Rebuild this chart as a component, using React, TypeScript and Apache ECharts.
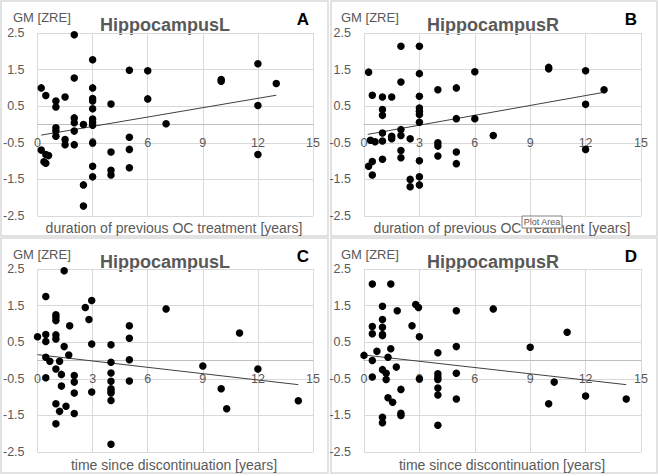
import React, { useEffect, useRef } from "react";
import * as echarts from "echarts";

const ptsA: number[][] = [
  [0.2, 1.0], [0.45, 0.79], [1, 0.64], [1, 0.48], [1.5, 0.75], [2, 2.45], [2, 1.27], [2, 0.18], [2, 0.05], [2, -0.18], [2, -0.55],
  [1, -0.09], [1, -0.18], [1, -0.32], [1.5, -0.41], [1.5, -0.55], [2.5, 0.0],
  [3, 1.77], [3, 1.0], [3, 0.71], [3, 0.64], [3, 0.43], [3, 0.15], [3, 0.06], [3, -0.02], [3, -0.5], [3, -1.14], [3, -1.43],
  [2.5, -1.65], [2.5, -2.23], [0.2, -0.7], [0.45, -0.82], [0.6, -0.85], [0.35, -1.02], [0.45, -1.06],
  [4, 0.56], [4, -0.75], [4, -1.25], [4, -1.38], [5, 1.48], [5, -0.35], [5, -0.68], [5, -1.18], [6, 1.47], [6, 0.7], [7, 0.02],
  [10, 1.23], [10, 1.18], [12, 1.66], [12, 0.52], [12, -0.82], [13, 1.12],
];

const ptsB: number[][] = [
  [0.25, 1.43], [0.45, 0.8], [1, 0.75], [1.5, 0.75], [1, 0.41], [1, 0.25], [2, 2.14], [3, 2.14], [2, 1.16], [3, 1.39], [3, 0.77],
  [3, 0.45], [3, 0.36], [3, 0.27], [3, 0.06], [1, -0.23], [1, -0.45], [1.5, -0.32], [1.5, -0.39], [0.35, -0.43], [0.6, -0.47],
  [2, -0.14], [2, -0.3], [2.5, -0.39], [2, -0.71], [2, -0.91], [1, -0.95], [3, -0.99], [0.45, -1.01], [0.25, -1.14], [0.45, -1.38],
  [3, -1.43], [3, -1.65], [2.5, -1.5], [2.5, -1.7], [4, 0.95], [4, -0.5], [4, -0.59], [4, -0.86], [5, 1.0], [5, 0.16], [5, -0.75], [5, -1.07],
  [6, 1.44], [6, 0.16], [7, -0.3], [10, 1.56], [10, 1.52], [12, 1.47], [12, 0.55], [12, -0.68], [13, 0.95],
];

const ptsC: number[][] = [
  [0, 0.65], [0.45, 1.75], [0.45, 0.71], [0.45, 0.52], [0.45, 0.09], [0.67, -0.02], [0.45, -0.47],
  [1, 1.25], [1, 1.18], [1, 1.09], [1, 0.7], [1, 0.59], [1, -0.23], [1, -1.18], [1, -1.73],
  [1.45, 2.45], [1.45, 0.38], [1.2, -0.02], [1.3, -0.38], [1.3, -0.7], [1.2, -1.39], [1.55, -1.25], [1.75, 0.95], [1.7, 0.15],
  [2, -0.41], [2, -0.59], [2, -0.89], [2, -1.45], [2.6, 1.45], [2.8, 1.12], [2.95, 1.64], [2.95, 0.45], [2.95, -0.86],
  [4, 0.43], [4, -0.05], [4, -0.34], [4, -0.57], [4, -0.77], [4, -0.84], [4, -0.89], [4, -1.09], [4, -2.29],
  [5, 0.95], [5, 0.61], [5, 0.02], [5, -0.56], [7, 1.41], [9, -0.15], [10, -0.77], [10.3, -1.32], [11, 0.75], [12, -0.23], [14.2, -1.1],
];

const ptsD: number[][] = [
  [0, 0.14], [0.45, 2.09], [0.45, 0.93], [0.45, 0.73], [0.45, 0.0], [0.45, -0.45], [0.7, 0.25],
  [1, 1.48], [1, 1.12], [1, 0.91], [1, 0.71], [1, 0.68], [1, -0.25], [1, -1.55], [1, -1.7],
  [1.2, -0.35], [1.2, -0.52], [1.3, 0.09], [1.3, -1.02], [1.45, 2.09], [1.45, 0.32], [1.55, -1.14], [1.75, -0.18], [1.8, 1.36],
  [2, -0.79], [2, -1.44], [2, -1.5], [2.6, 0.95], [2.8, 1.53], [2.95, 1.45], [3, 0.65], [3, -0.5],
  [4, 0.21], [4, -0.36], [4, -0.45], [4, -0.52], [4, -0.75], [4, -0.94], [4, -1.77],
  [5, 1.36], [5, 0.38], [5, -0.35], [5, -1.05], [7, 1.41], [9, 0.36], [10, -1.18], [10.3, -0.59], [11, 0.77], [12, -0.97], [14.2, -1.05],
];

const trendA: number[][] = [[0.2, -0.29], [13, 0.8]];
const trendB: number[][] = [[0.2, -0.27], [13, 0.88]];
const trendC: number[][] = [[0, 0.16], [14.2, -0.66]];
const trendD: number[][] = [[0, 0.15], [14.2, -0.66]];

const panelTitles = ["HippocampusL", "HippocampusR", "HippocampusL", "HippocampusR"];
const panelLetters = ["A", "B", "C", "D"];
const xAxisNames = [
  "duration of previous OC treatment [years]",
  "duration of previous OC treatment [years]",
  "time since discontinuation [years]",
  "time since discontinuation [years]",
];
const yAxisName = "GM [ZRE]";
const xRange = [0, 15, 3];
const yRange = [-2.5, 2.5, 1];

const FONT = "'Liberation Sans', Arial, sans-serif";
const GRAY = "#595959";

export default function App() {
  const ref = useRef<HTMLDivElement>(null);
  useEffect(() => {
    if (!ref.current) return;
    const chart = echarts.init(ref.current, undefined, { renderer: "svg" });
    const pts = [ptsA, ptsB, ptsC, ptsD];
    const trends = [trendA, trendB, trendC, trendD];
    const offX = [0, 328, 0, 328];
    const offY = [0, 0, 236, 236];
    const gridH = 183;
    const grids = offX.map((ox, i) => ({
      left: 36 + ox,
      top: 33 + offY[i],
      width: 277,
      height: gridH,
    }));
    const xAxes = grids.map((_, i) => ({
      type: "value",
      gridIndex: i,
      position: "bottom",
      offset: -gridH / 2,
      min: xRange[0],
      max: xRange[1],
      interval: xRange[2],
      axisLine: { show: true, onZero: false, lineStyle: { color: "#bfbfbf", width: 1 } },
      axisTick: { show: false },
      axisLabel: { color: GRAY, fontSize: 12.5, fontFamily: FONT, margin: 12 },
      splitLine: { show: true, lineStyle: { color: "#d9d9d9", width: 1 } },
    }));
    const yAxes = grids.map((_, i) => ({
      type: "value",
      gridIndex: i,
      min: yRange[0],
      max: yRange[1],
      interval: yRange[2],
      axisLine: { show: false },
      axisTick: { show: false },
      axisLabel: { color: GRAY, fontSize: 12.5, fontFamily: FONT, margin: 13 },
      splitLine: { show: true, lineStyle: { color: "#d9d9d9", width: 1 } },
    }));
    const series: any[] = [];
    pts.forEach((p, i) => {
      series.push({
        type: "scatter",
        xAxisIndex: i,
        yAxisIndex: i,
        data: p,
        symbolSize: 7.5,
        itemStyle: { color: "#000", opacity: 1 },
        z: 3,
      });
      series.push({
        type: "line",
        xAxisIndex: i,
        yAxisIndex: i,
        data: trends[i],
        symbol: "none",
        lineStyle: { color: "#404040", width: 1 },
        z: 2,
      });
    });
    const graphic: any[] = [];
    const rects = [
      { x: 1, y: 1, width: 327, height: 235 },
      { x: 331, y: 1, width: 326, height: 235 },
      { x: 1, y: 238, width: 327, height: 235 },
      { x: 331, y: 238, width: 326, height: 235 },
    ];
    rects.forEach((r) => {
      graphic.push({
        type: "rect",
        shape: r,
        style: { fill: "none", stroke: "#d9d9d9", lineWidth: 1.5 },
        z: -1,
      });
    });
    offX.forEach((ox, i) => {
      const oy = i < 2 ? 0 : 237;
      graphic.push({
        type: "text",
        x: 13 + ox,
        y: 17 + oy,
        style: { text: yAxisName, fill: GRAY, fontSize: 13, fontFamily: FONT, align: "left", verticalAlign: "middle" },
      });
      graphic.push({
        type: "text",
        x: 165 + ox,
        y: 25 + oy,
        style: { text: panelTitles[i], fill: GRAY, fontSize: 18, fontWeight: "bold", fontFamily: FONT, align: "center", verticalAlign: "middle" },
      });
      graphic.push({
        type: "text",
        x: 303 + ox,
        y: 19 + oy,
        style: { text: panelLetters[i], fill: "#000", fontSize: 17, fontWeight: "bold", fontFamily: FONT, align: "center", verticalAlign: "middle" },
      });
      graphic.push({
        type: "text",
        x: 174 + ox,
        y: 228 + oy,
        style: { text: xAxisNames[i], fill: GRAY, fontSize: 14, fontFamily: FONT, align: "center", verticalAlign: "middle" },
      });
    });
    graphic.push({
      type: "group",
      z: 100,
      children: [
        {
          type: "rect",
          shape: { x: 522, y: 216, width: 40, height: 12 },
          style: { fill: "#ffffff", stroke: "#808080", lineWidth: 1 },
          z: 100,
        },
        {
          type: "text",
          x: 542,
          y: 222,
          style: { text: "Plot Area", fill: "#575757", fontSize: 9, fontFamily: FONT, align: "center", verticalAlign: "middle" },
          z: 101,
        },
      ],
    });
    chart.setOption({
      animation: false,
      backgroundColor: "#ffffff",
      grid: grids,
      xAxis: xAxes,
      yAxis: yAxes,
      series,
      graphic,
    });
    return () => chart.dispose();
  }, []);
  return <div ref={ref} style={{ position: "fixed", left: 0, top: 0, width: 658, height: 476 }} />;
}
